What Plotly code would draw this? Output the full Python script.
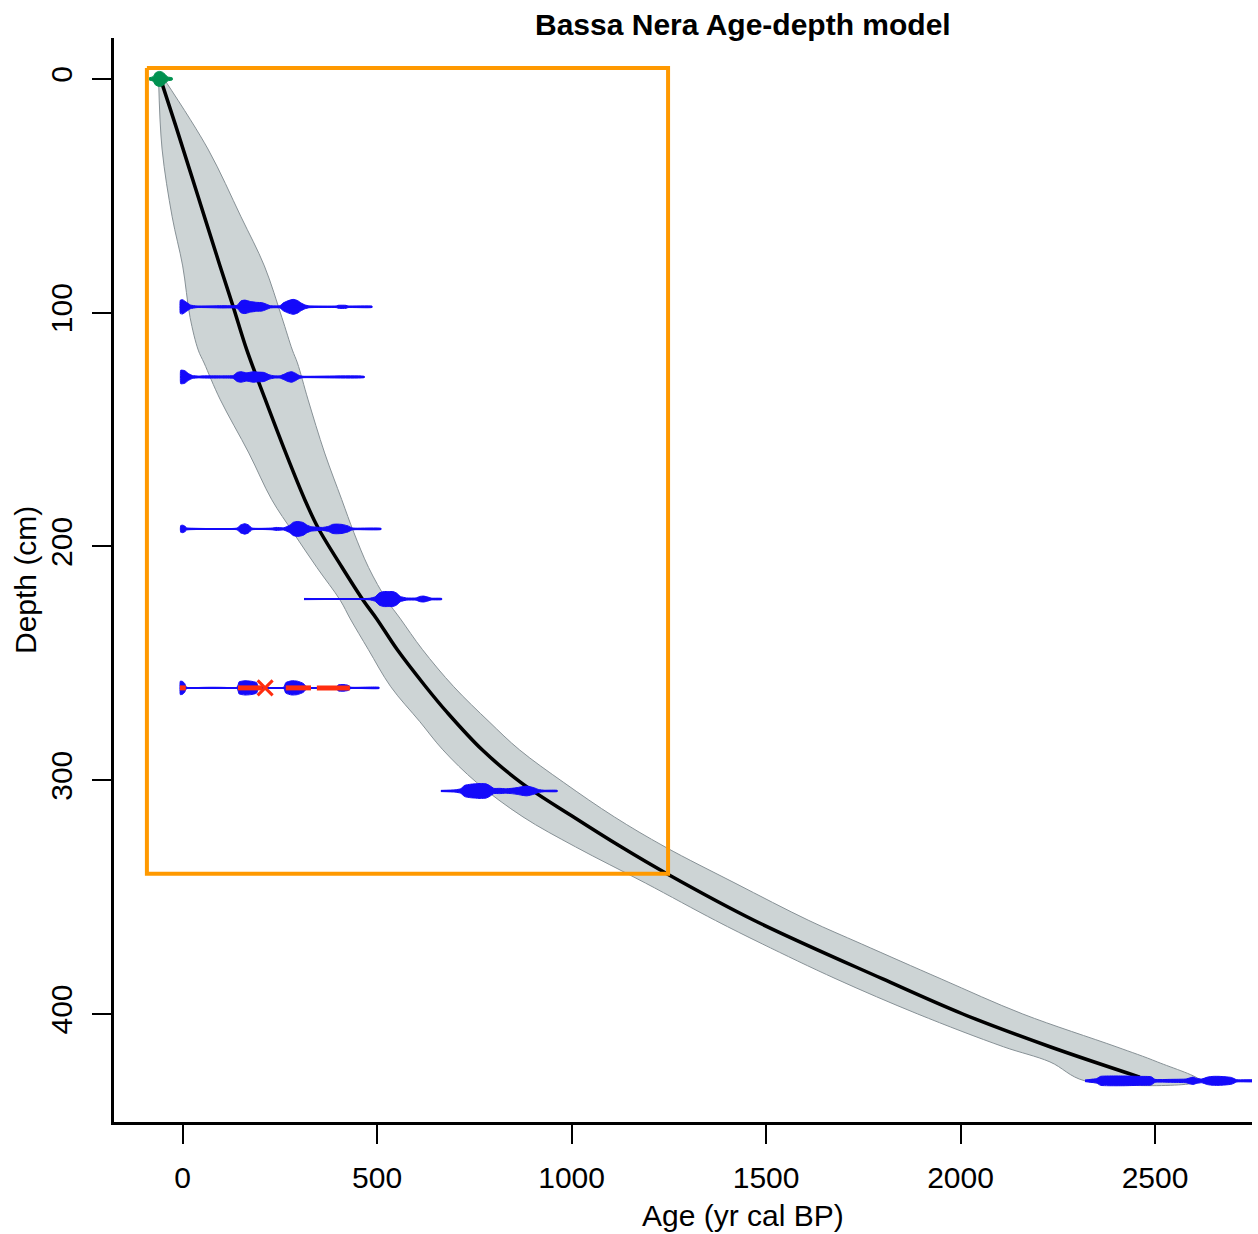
import plotly.graph_objects as go

# ---------------- data ----------------
# Age-depth model: mean curve
mean_depth = [0, 20, 50, 80, 97.5, 116, 137, 160, 180, 192, 209, 223, 231, 244, 260, 271, 287, 301, 315, 328.5, 340, 360, 385, 400, 414, 427]
mean_age = [-57, -18, 39, 96, 130, 165, 212, 265, 314, 348, 410, 464, 499, 551, 625, 680, 770, 870, 998, 1127, 1245, 1470, 1800, 2006, 2230, 2461]

# 95% range band
band_depth = [0, 30, 59, 80, 102, 116, 121.5, 137, 160, 180, 194, 209, 223, 231, 244, 260, 275, 287, 301, 315.7, 328.5, 344, 360, 370, 385, 400, 414, 420.5, 428.6]
band_min = [-62, -53, -27, 0, 19, 40, 55, 96, 170, 229, 284, 345, 405, 431, 477, 535, 610, 669, 756, 875, 1010, 1190, 1370, 1490, 1680, 1890, 2110, 2230, 2320]
band_max = [-48, 65, 150, 210, 255, 282, 295, 322, 365, 409, 440, 478, 525, 560, 616, 697, 788, 866, 980, 1110, 1240, 1420, 1610, 1745, 1950, 2160, 2400, 2506, 2616]

# calibrated date distributions: depth, ages, relative probabilities
date_depths = [97.5, 127.5, 192.5, 222.5, 260.5, 304.6, 428.6]
date_ages = [
    [-7, -6, 0, 10, 20, 37, 100, 140, 150, 160, 175, 190, 205, 218, 225, 250, 258, 270, 284, 295, 305, 315, 325, 395, 400, 420, 425, 487],
    [-6, -5, 5, 15, 25, 40, 60, 100, 130, 140, 150, 165, 180, 195, 210, 222, 235, 250, 260, 270, 281, 290, 300, 310, 467],
    [-6, -5, 0, 5, 10, 20, 140, 148, 160, 170, 178, 230, 240, 260, 275, 285, 297, 310, 320, 330, 340, 360, 375, 385, 395, 410, 425, 435, 445, 510],
    [312, 480, 495, 505, 516, 530, 541, 550, 560, 575, 600, 610, 619, 628, 640, 666],
    [-7, -6, 0, 5, 10, 140, 145, 160, 175, 190, 195, 260, 265, 280, 295, 310, 320, 395, 400, 412, 425, 432, 505],
    [664, 700, 715, 725, 740, 750, 765, 780, 790, 800, 815, 830, 845, 860, 875, 885, 895, 905, 915, 930, 963],
    [2320, 2335, 2350, 2360, 2380, 2420, 2460, 2490, 2500, 2540, 2580, 2590, 2598, 2606, 2620, 2635, 2650, 2665, 2680, 2697, 2710, 2760],
]
date_probs = [
    [0, 0.9, 0.95, 0.6, 0.25, 0.1, 0.15, 0.2, 0.8, 0.9, 0.7, 0.6, 0.55, 0.3, 0.15, 0.15, 0.5, 0.8, 1.0, 0.85, 0.5, 0.25, 0.12, 0.1, 0.2, 0.2, 0.1, 0.08],
    [0, 0.9, 0.85, 0.45, 0.2, 0.12, 0.15, 0.15, 0.2, 0.6, 0.7, 0.55, 0.7, 0.65, 0.6, 0.3, 0.15, 0.15, 0.35, 0.6, 0.7, 0.5, 0.2, 0.1, 0.08],
    [0, 0.45, 0.5, 0.4, 0.15, 0.1, 0.12, 0.5, 0.7, 0.5, 0.12, 0.12, 0.2, 0.15, 0.5, 0.9, 1.0, 0.85, 0.5, 0.3, 0.25, 0.2, 0.35, 0.6, 0.65, 0.6, 0.4, 0.15, 0.1, 0.08],
    [0.08, 0.1, 0.3, 0.8, 1.0, 1.0, 1.0, 0.8, 0.35, 0.15, 0.15, 0.35, 0.4, 0.3, 0.12, 0.08],
    [0, 0.9, 0.85, 0.6, 0.1, 0.1, 0.8, 0.95, 0.9, 0.7, 0.1, 0.1, 0.7, 0.95, 0.9, 0.6, 0.1, 0.1, 0.4, 0.45, 0.35, 0.1, 0.08],
    [0.08, 0.15, 0.3, 0.75, 0.9, 0.95, 1.0, 0.95, 0.7, 0.35, 0.35, 0.3, 0.35, 0.45, 0.6, 0.65, 0.55, 0.4, 0.2, 0.1, 0.08],
    [0.1, 0.2, 0.3, 0.6, 0.65, 0.65, 0.6, 0.55, 0.2, 0.2, 0.25, 0.4, 0.5, 0.35, 0.25, 0.5, 0.6, 0.6, 0.55, 0.45, 0.15, 0.1],
]

# surface date (green)
surface_depth = 0
surface_ages = [-86, -76, -70, -62, -58, -52, -45, -38, -27]
surface_probs = [0.15, 0.3, 0.8, 1.0, 1.0, 0.9, 0.6, 0.25, 0.15]

# outlier date (red) at 260.5 cm
outlier_depth = 260.5
outlier_segments = [(-7, 8), (142, 205), (265, 330), (345, 430)]
outlier_x_age = 212

# zoom box
box_age = [-92, 1248]
box_depth = [-4.7, 340]

# axis ticks
x_ticks = [0, 500, 1000, 1500, 2000, 2500]
y_ticks = [0, 100, 200, 300, 400]

# ---------------- figure ----------------
BLUE = "rgb(20,10,250)"
GREEN = "rgb(0,145,80)"
RED = "rgb(255,45,15)"
H = 3.2  # half-height of probability shapes in depth units

fig = go.Figure()

# band
bx = band_min + band_max[::-1]
by = band_depth + band_depth[::-1]
fig.add_trace(go.Scatter(x=bx, y=by, fill="toself", fillcolor="rgb(205,212,213)",
                         line=dict(color="rgb(135,145,150)", width=1, shape="spline", smoothing=1.0),
                         mode="lines", hoverinfo="skip"))

# mean line
fig.add_trace(go.Scatter(x=mean_age, y=mean_depth, mode="lines",
                         line=dict(color="black", width=3.5, shape="spline", smoothing=1.0)))


def add_dist(depth, ages, probs, color):
    xs = list(ages) + list(ages)[::-1]
    ys = [depth - p * H for p in probs] + [depth + p * H for p in probs[::-1]]
    fig.add_trace(go.Scatter(x=xs, y=ys, fill="toself", fillcolor=color,
                             line=dict(color=color, width=1, shape="spline", smoothing=0.5),
                             mode="lines", hoverinfo="skip"))
    fig.add_trace(go.Scatter(x=[ages[0], ages[-1]], y=[depth, depth], mode="lines",
                             line=dict(color=color, width=2)))


for d, a, p in zip(date_depths, date_ages, date_probs):
    add_dist(d, a, p, BLUE)

add_dist(surface_depth, surface_ages, surface_probs, GREEN)

# outlier red segments
for s0, s1 in outlier_segments:
    fig.add_trace(go.Scatter(x=[s0, s1], y=[outlier_depth, outlier_depth], mode="lines",
                             line=dict(color=RED, width=5)))
fig.add_trace(go.Scatter(x=[outlier_x_age], y=[outlier_depth], mode="markers",
                         marker=dict(symbol="x-thin", size=15, line=dict(color=RED, width=3))))

# orange box
fig.add_trace(go.Scatter(x=[box_age[0], box_age[1], box_age[1], box_age[0], box_age[0]],
                         y=[box_depth[0], box_depth[0], box_depth[1], box_depth[1], box_depth[0]],
                         mode="lines", line=dict(color="rgb(255,153,0)", width=4)))

FONT = "Liberation Sans, Arial, Helvetica, sans-serif"

fig.update_layout(
    width=1258, height=1234,
    margin=dict(l=114, r=6, t=38, b=112),
    paper_bgcolor="white", plot_bgcolor="white",
    showlegend=False,
    font=dict(family=FONT, size=30, color="black"),
    xaxis=dict(range=[-176.6, 2749.4], tickvals=x_ticks, ticktext=[str(v) for v in x_ticks],
               showgrid=False, zeroline=False, showline=True, linecolor="black", linewidth=3,
               ticks="outside", ticklen=19, tickwidth=2, tickcolor="black",
               ticklabelstandoff=8, tickfont=dict(size=30)),
    yaxis=dict(range=[446.2, -17.5], tickvals=y_ticks, ticktext=[str(v) for v in y_ticks],
               showgrid=False, zeroline=False, showline=True, linecolor="black", linewidth=3,
               ticks="outside", ticklen=19, tickwidth=2, tickcolor="black",
               tickangle=-90, ticklabelstandoff=8, tickfont=dict(size=30)),
    annotations=[
        dict(text="<b>Bassa Nera Age-depth model</b>", x=0.5527, y=1.012, xref="paper", yref="paper",
             xanchor="center", yanchor="middle", showarrow=False, font=dict(size=30)),
        dict(text="Age (yr cal BP)", x=0.5527, y=-0.0858, xref="paper", yref="paper",
             xanchor="center", yanchor="middle", showarrow=False, font=dict(size=30)),
        dict(text="Depth (cm)", x=-0.0782, y=0.5, xref="paper", yref="paper", textangle=-90,
             xanchor="center", yanchor="middle", showarrow=False, font=dict(size=30)),
    ],
)

fig.write_html("out.html")
